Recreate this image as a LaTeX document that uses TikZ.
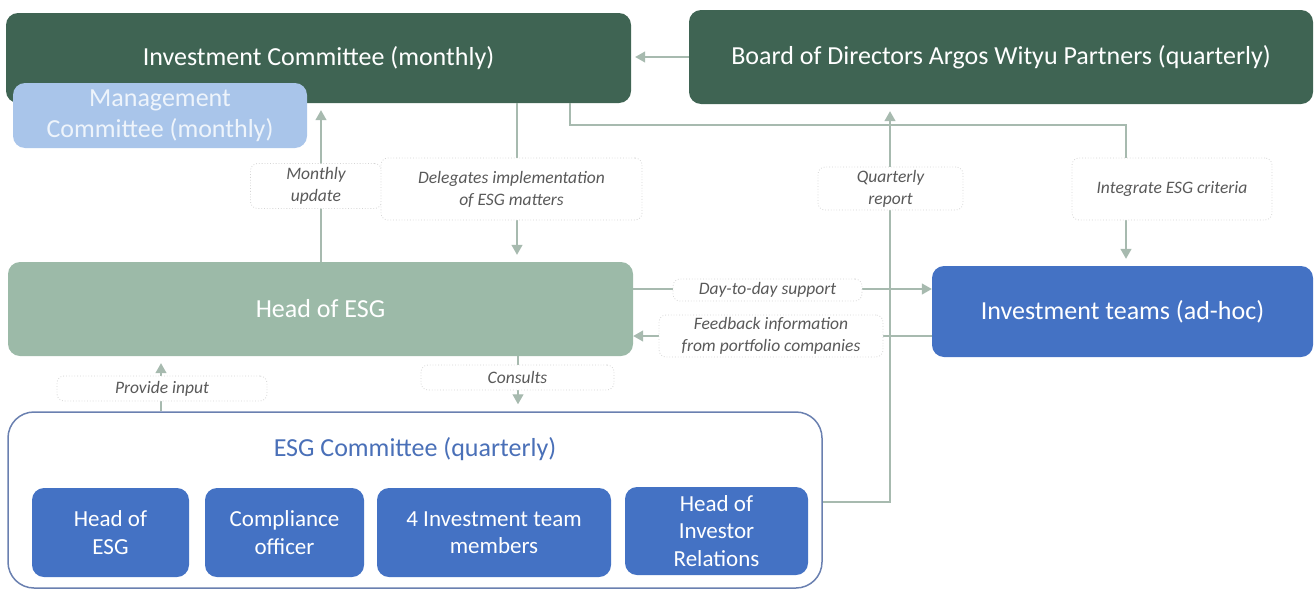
\documentclass[tikz,border=0pt]{standalone}
\usepackage{fontspec}
\setmainfont{Carlito}
\usetikzlibrary{arrows.meta,calc}
\definecolor{dkgreen}{HTML}{3F6453}
\definecolor{sage}{HTML}{9CBAA8}
\definecolor{ltblue}{HTML}{A9C5EA}
\definecolor{mgmttext}{HTML}{EEF4FB}
\definecolor{midblue}{HTML}{4472C4}
\definecolor{frameblue}{HTML}{6A80B0}
\definecolor{titleblue}{HTML}{4A70B8}
\definecolor{lineclr}{HTML}{A7BAAF}
\definecolor{lblborder}{HTML}{D4D4D4}
\definecolor{lbltext}{HTML}{595959}
\begin{document}
\begin{tikzpicture}[x=1pt,y=-1pt,
  box/.style={rounded corners=12pt, inner sep=0pt, align=center, text=white},
  bigf/.style={font=\fontsize{26}{31}\selectfont},
  smallf/.style={font=\fontsize{23}{27.5}\selectfont},
  conn/.style={draw=lineclr, line width=1.3pt},
  arr/.style={conn, -{Triangle[length=10pt,width=11pt]}},
  varr/.style={arr, shorten >=7pt},
  lbl/.style={draw=lblborder, dotted, line width=0.8pt, fill=white, rounded corners=7pt,
    font=\fontsize{17.5}{22}\selectfont\itshape, text=lbltext, align=center, inner sep=0pt}]
\useasboundingbox (0,0) rectangle (1316,589);

% main boxes
\node[box, bigf, fill=dkgreen, minimum width=625pt, minimum height=90pt] (ic) at (318.5,58) {Investment Committee (monthly)};
\node[box, bigf, fill=ltblue, text=mgmttext, minimum width=294pt, minimum height=65pt, font=\fontsize{26}{31}\selectfont] (mc) at (160,115.5) {Management\\Committee (monthly)};
\node[box, bigf, fill=dkgreen, minimum width=624pt, minimum height=94pt] (board) at (1001,57) {Board of Directors Argos Wityu Partners (quarterly)};
\node[box, bigf, fill=sage, minimum width=625pt, minimum height=94pt] (hesg) at (320.5,309) {Head of ESG};
\node[box, bigf, fill=midblue, minimum width=381pt, minimum height=91pt] (it) at (1122.5,311.5) {Investment teams (ad-hoc)};

% ESG committee container
\node[draw=frameblue, line width=1.5pt, fill=white, rounded corners=26pt, minimum width=814pt, minimum height=176pt, inner sep=0pt] (esgc) at (415,500) {};
\node[bigf, text=titleblue, inner sep=0pt] (esgt) at (415,449) {ESG Committee (quarterly)};
\node[box, smallf, fill=midblue, minimum width=157pt, minimum height=89pt] (m1) at (110.5,532.5) {Head of\\ESG};
\node[box, smallf, fill=midblue, minimum width=159pt, minimum height=89pt] (m2) at (284.5,532.5) {Compliance\\officer};
\node[box, smallf, fill=midblue, minimum width=234pt, minimum height=89pt] (m3) at (494,532.5) {4 Investment team\\members};
\node[box, smallf, fill=midblue, minimum width=183pt, minimum height=88pt] (m4) at (716.5,531) {Head of\\Investor\\Relations};

% helper coordinates
\coordinate (x161) at (161,0);
\coordinate (x321) at (321,0);
\coordinate (x517) at (517,0);
\coordinate (x518) at (518,0);
\coordinate (b1) at (570,125);
\coordinate (b2) at (1126,125);
\coordinate (q1) at (890,502);
\coordinate (y289) at (0,289);
\coordinate (y336) at (0,336);

% connectors
\draw[arr, shorten >=4pt] (board.west) -- (board.west -| ic.east);
\draw[varr] (ic.south -| b1) -- (b1) -- (b2) -- (it.north -| b2);
\draw[varr] (ic.south -| x517) -- (hesg.north -| x517);
\draw[varr] (hesg.north -| x321) -- (ic.south -| x321);
\draw[arr] (hesg.east |- y289) -- (it.west |- y289);
\draw[arr] (it.west |- y336) -- (hesg.east |- y336);
\draw[varr] (esgc.north -| x161) -- (hesg.south -| x161);
\draw[varr] (hesg.south -| x518) -- (esgc.north -| x518);
\draw[varr] (esgc.east |- q1) -- (q1) -- (board.south -| q1);

% labels
\node[lbl, minimum width=131pt, minimum height=45pt] (lmu) at (316,186) {Monthly\\update};
\node[lbl, minimum width=261pt, minimum height=62pt] (ldel) at (511.5,189) {Delegates implementation\\of ESG matters};
\node[lbl, minimum width=145pt, minimum height=43pt] (lqr) at (890.5,188.5) {Quarterly\\report};
\node[lbl, minimum width=200pt, minimum height=62pt] (lint) at (1172,189) {Integrate ESG criteria};
\node[lbl, minimum width=189pt, minimum height=22pt] (lday) at (767.5,290) {Day-to-day support};
\node[lbl, minimum width=224pt, minimum height=42pt] (lfb) at (771,336) {Feedback information\\from portfolio companies};
\node[lbl, minimum width=210pt, minimum height=25pt] (lpi) at (162,388.5) {Provide input};
\node[lbl, minimum width=193pt, minimum height=25pt] (lcon) at (517.5,377.5) {Consults};
\end{tikzpicture}
\end{document}
